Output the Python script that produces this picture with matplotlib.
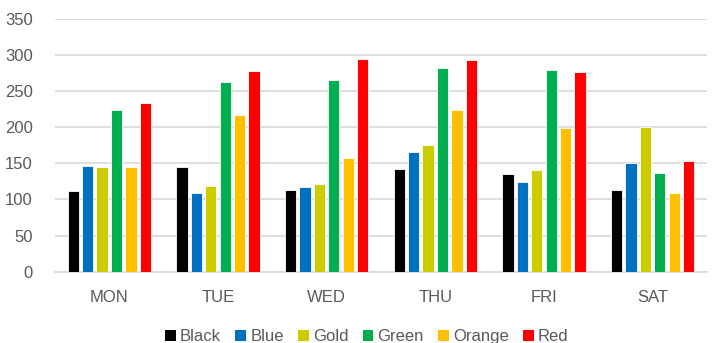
import matplotlib.pyplot as plt
import numpy as np
from matplotlib.patches import Patch

plt.rcParams['font.family'] = ['Liberation Sans', 'DejaVu Sans']

days = ['MON', 'TUE', 'WED', 'THU', 'FRI', 'SAT']
series_names = ['Black', 'Blue', 'Gold', 'Green', 'Orange', 'Red']
black = [112, 145, 113, 142, 135, 113]
blue = [146, 109, 117, 166, 124, 151]
gold = [145, 118, 121, 175, 141, 200]
green = [224, 263, 265, 282, 279, 137]
orange = [145, 217, 157, 224, 199, 109]
red = [233, 278, 294, 293, 276, 154]

colors = ['#000000', '#0070C0', '#CCCC00', '#00B050', '#FFC000', '#FF0000']
text_color = '#595959'
grid_color = '#D9D9D9'

fig = plt.figure(figsize=(7.18, 3.43), dpi=100)
ax = fig.add_axes([0.0766, 0.2079, 0.908, 0.7367])

x = np.arange(len(days))
pitch = 0.1325
width = 0.104
all_series = [black, blue, gold, green, orange, red]
for i, (vals, col) in enumerate(zip(all_series, colors)):
    offset = (i - 2.5) * pitch
    ax.bar(x + offset, vals, width=width, color=col, edgecolor='white',
           linewidth=0.6, zorder=3)

ax.set_xlim(-0.5, len(days) - 0.5)
ax.set_ylim(0, 350)
ax.set_yticks(np.arange(0, 351, 50))
ax.set_xticks(x)
ax.set_xticklabels(days)
ax.grid(axis='y', color=grid_color, linewidth=1.2, zorder=0)
for side in ['top', 'right', 'left']:
    ax.spines[side].set_visible(False)
ax.spines['bottom'].set_color(grid_color)
ax.spines['bottom'].set_linewidth(1.2)
ax.tick_params(axis='both', length=0, labelsize=12, labelcolor=text_color)
ax.tick_params(axis='y', pad=16)
ax.tick_params(axis='x', pad=13)

handles = [Patch(facecolor=c, edgecolor='none') for c in colors]
fig.legend(handles, series_names, loc='center', bbox_to_anchor=(0.511, 0.018),
           ncol=6, frameon=False, fontsize=12, labelcolor=text_color,
           handlelength=0.65, handleheight=0.65, handletextpad=0.25,
           columnspacing=0.85, borderaxespad=0)

fig.savefig('out.png', dpi=100)
